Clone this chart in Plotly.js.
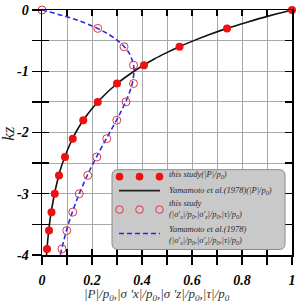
<!DOCTYPE html>
<html>
<head>
<meta charset="utf-8">
<script src="https://cdn.plot.ly/plotly-3.0.1.min.js"></script>
<style>
  html, body { margin: 0; padding: 0; background: #fff; }
  #chart { width: 301px; height: 301px; }
</style>
</head>
<body>
<div id="chart"></div>
<script>
// Depth kz of the sampled points and the normalised pore pressure / stresses
const kzPoints = [0, -0.3, -0.6, -0.9, -1.2, -1.5, -1.8, -2.1, -2.4, -2.7, -3.0, -3.3, -3.6, -3.9];
const pStudy   = [1.0, 0.74, 0.55, 0.408, 0.30, 0.223, 0.165, 0.123, 0.092, 0.068, 0.051, 0.038, 0.028, 0.020];
const sStudy   = [0, 0.223, 0.328, 0.366, 0.366, 0.336, 0.299, 0.259, 0.219, 0.183, 0.149, 0.123, 0.099, 0.080];

// Yamamoto et al. (1978) reference curves
const kzCurve = [0, -0.1, -0.2, -0.3, -0.4, -0.5, -0.6, -0.7, -0.8, -0.9, -1.0, -1.2, -1.4, -1.6, -1.8,
                 -2.0, -2.2, -2.4, -2.6, -2.8, -3.0, -3.2, -3.4, -3.6, -3.8, -4.0];
const pCurve  = [1.0, 0.905, 0.82, 0.74, 0.67, 0.607, 0.549, 0.497, 0.449, 0.407, 0.368, 0.301, 0.247, 0.202, 0.165,
                 0.135, 0.111, 0.091, 0.074, 0.061, 0.050, 0.041, 0.033, 0.027, 0.022, 0.018];
const sCurve  = [0, 0.09, 0.164, 0.222, 0.268, 0.303, 0.329, 0.348, 0.359, 0.366, 0.368, 0.361, 0.345, 0.323, 0.298,
                 0.271, 0.244, 0.218, 0.193, 0.170, 0.149, 0.130, 0.113, 0.098, 0.085, 0.073];

// Tick positions and labels
const xTickVals = [0, 0.1, 0.2, 0.3, 0.4, 0.5, 0.6, 0.7, 0.8, 0.9, 1.0];
const xTickText = ['0', '', '0.2', '', '0.4', '', '0.6', '', '0.8', '', '1'];
const yTickVals = [0, -0.5, -1, -1.5, -2, -2.5, -3, -3.5, -4];
const yTickText = ['0', '', '-1', '', '-2', '', '-3', '', '-4'];

// Axis titles
const xTitle = '|P|/p<sub>0</sub>,|σ \'x|/p<sub>0</sub>,|σ \'z|/p<sub>0</sub>,|τ|/p<sub>0</sub>';
const yTitle = 'kz';

// Legend labels
const legendLines = [
  'this study(|P|/p<sub>0</sub>)',
  'Yamamoto et al.(1978)(|P|/p<sub>0</sub>)',
  'this study',
  '(|σ\'<sub>x</sub>|/p<sub>0</sub>,|σ\'<sub>z</sub>|/p<sub>0</sub>,|τ|/p<sub>0</sub>)',
  'Yamamoto et al.(1978)',
  '(|σ\'<sub>x</sub>|/p<sub>0</sub>,|σ\'<sub>z</sub>|/p<sub>0</sub>,|τ|/p<sub>0</sub>)'
];

const W = 301, H = 301;
const M = { l: 42, r: 9, t: 10, b: 45.5 };
const PW = W - M.l - M.r, PH = H - M.t - M.b;
const px = v => (v - M.l) / PW;          // pixel x -> paper
const py = v => (M.t + PH - v) / PH;     // pixel y -> paper

const SERIF = '"Liberation Serif", "DejaVu Serif", serif';
const RED = '#ee1111';
const RED_OPEN = '#e0334a';
const BLUE = '#2a2ae0';

const traces = [
  { x: pCurve, y: kzCurve, mode: 'lines', line: { color: '#111', width: 1.6, shape: 'spline' },
    hoverinfo: 'skip', showlegend: false },
  { x: sCurve, y: kzCurve, mode: 'lines', line: { color: BLUE, width: 1.6, dash: '5px,3px', shape: 'spline' },
    hoverinfo: 'skip', showlegend: false },
  { x: pStudy, y: kzPoints, mode: 'markers', marker: { color: RED, size: 8 },
    cliponaxis: false, showlegend: false },
  { x: sStudy, y: kzPoints, mode: 'markers',
    marker: { symbol: 'circle-open', color: RED_OPEN, size: 8, line: { width: 1 } },
    cliponaxis: false, showlegend: false },
  { x: [], y: [], xaxis: 'x2', yaxis: 'y2', showlegend: false }
];

// Legend box with rounded corners
const bx0 = 112, bx1 = 285, by0 = 170, by1 = 250, r = 6;
const boxPath = [
  `M ${px(bx0 + r)} ${py(by0)}`,
  `L ${px(bx1 - r)} ${py(by0)}`,
  `Q ${px(bx1)} ${py(by0)} ${px(bx1)} ${py(by0 + r)}`,
  `L ${px(bx1)} ${py(by1 - r)}`,
  `Q ${px(bx1)} ${py(by1)} ${px(bx1 - r)} ${py(by1)}`,
  `L ${px(bx0 + r)} ${py(by1)}`,
  `Q ${px(bx0)} ${py(by1)} ${px(bx0)} ${py(by1 - r)}`,
  `L ${px(bx0)} ${py(by0 + r)}`,
  `Q ${px(bx0)} ${py(by0)} ${px(bx0 + r)} ${py(by0)} Z`
].join(' ');

const shapes = [
  { type: 'path', xref: 'paper', yref: 'paper', path: boxPath,
    fillcolor: '#c9c9c9', line: { color: '#8a8a8a', width: 1 } }
];

const symX = [119.5, 139.5, 159.5];
const dotR = 3.8;
symX.forEach(cx => {
  shapes.push({ type: 'circle', xref: 'paper', yref: 'paper',
    x0: px(cx - dotR), x1: px(cx + dotR), y0: py(177 + dotR), y1: py(177 - dotR),
    fillcolor: RED, line: { color: RED, width: 0 } });
  shapes.push({ type: 'circle', xref: 'paper', yref: 'paper',
    x0: px(cx - dotR), x1: px(cx + dotR), y0: py(210 + dotR), y1: py(210 - dotR),
    fillcolor: 'rgba(0,0,0,0)', line: { color: RED_OPEN, width: 1 } });
});
shapes.push({ type: 'line', xref: 'paper', yref: 'paper',
  x0: px(119), x1: px(160), y0: py(191), y1: py(191), line: { color: '#222', width: 1.8 } });
shapes.push({ type: 'line', xref: 'paper', yref: 'paper',
  x0: px(119), x1: px(160), y0: py(234), y1: py(234), line: { color: BLUE, width: 1.6, dash: '5px,3px' } });

const legendY = [175, 191, 203, 215, 229, 241];
const annotations = legendLines.map((t, i) => ({
  text: t, xref: 'paper', yref: 'paper', x: px(167), y: py(legendY[i]),
  xanchor: 'left', yanchor: 'middle', showarrow: false,
  font: { family: SERIF, size: 8.5, color: '#2a2a2a', style: 'italic' }
}));

// Axis titles placed as annotations below / left of the plot
annotations.push({
  text: xTitle, xref: 'paper', yref: 'paper', x: px(157), y: py(285),
  xanchor: 'center', yanchor: 'top', showarrow: false,
  font: { family: SERIF, size: 13, color: '#333', style: 'italic' }
});
annotations.push({
  text: yTitle, xref: 'paper', yref: 'paper', x: px(9), y: py(134), textangle: -90,
  xanchor: 'center', yanchor: 'middle', showarrow: false,
  font: { family: SERIF, size: 17, color: '#222', style: 'italic' }
});

const tickFont = { family: SERIF, size: 14, color: '#000', weight: 'bold', style: 'italic' };

const layout = {
  width: W, height: H,
  margin: M,
  paper_bgcolor: '#fff', plot_bgcolor: '#fff',
  showlegend: false,
  xaxis: {
    range: [0, 1], tickvals: xTickVals, ticktext: xTickText,
    ticks: 'outside', ticklen: 8, tickwidth: 1.3, tickcolor: '#000',
    showline: true, linecolor: '#000', linewidth: 1.5,
    showgrid: true, gridcolor: '#a8a8a8', gridwidth: 1, zeroline: false,
    tickfont: tickFont, ticklabelstandoff: 4,
    automargin: false, fixedrange: true
  },
  yaxis: {
    range: [-4, 0], tickvals: yTickVals, ticktext: yTickText,
    ticks: 'outside', ticklen: 9, tickwidth: 1.3, tickcolor: '#000',
    showline: true, linecolor: '#000', linewidth: 1.5,
    showgrid: true, gridcolor: '#a8a8a8', gridwidth: 1, zeroline: false,
    tickfont: tickFont,
    automargin: false, fixedrange: true
  },
  xaxis2: {
    overlaying: 'x', side: 'top', range: [0, 1], tickvals: xTickVals, showticklabels: false,
    ticks: 'inside', ticklen: 6, tickwidth: 1.3, tickcolor: '#000',
    showline: true, linecolor: '#000', linewidth: 1.5, mirror: 'ticks',
    showgrid: false, zeroline: false, fixedrange: true
  },
  yaxis2: {
    overlaying: 'y', side: 'right', range: [-4, 0], tickvals: yTickVals, showticklabels: false,
    ticks: 'inside', ticklen: 7, tickwidth: 1.3, tickcolor: '#000',
    showline: true, linecolor: '#000', linewidth: 1.5, mirror: 'ticks',
    showgrid: false, zeroline: false, fixedrange: true
  },
  shapes: shapes,
  annotations: annotations
};

Plotly.newPlot('chart', traces, layout, { staticPlot: true, displayModeBar: false });
</script>
</body>
</html>
